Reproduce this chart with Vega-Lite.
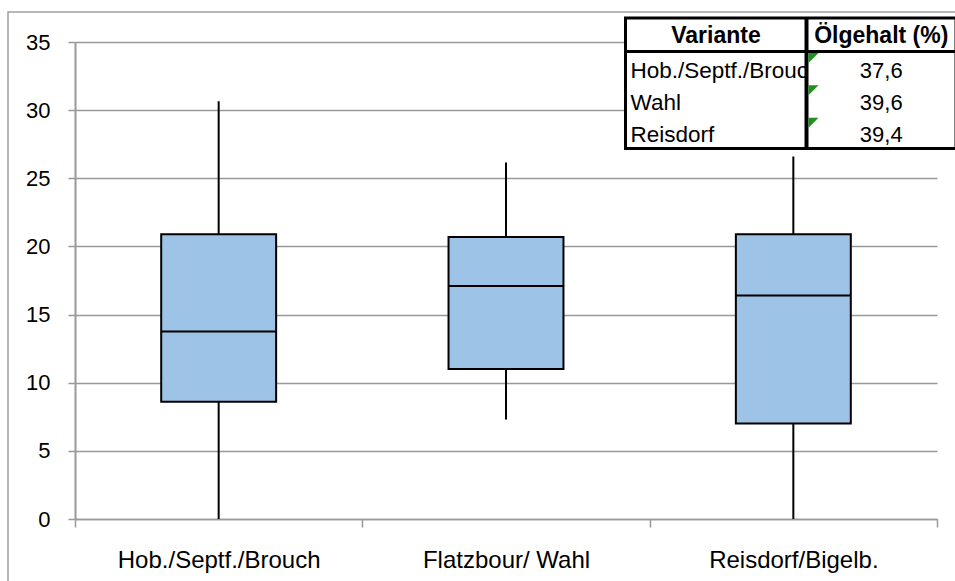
{
  "$schema": "https://vega.github.io/schema/vega-lite/v6.json",
  "width": 862,
  "height": 477,
  "autosize": {"type": "none"},
  "padding": {"left": 75, "top": 42, "right": 18, "bottom": 62},
  "background": "white",
  "config": {"view": {"stroke": null}},
  "datasets": {
    "boxes": [
      {"Sorte": "Hob./Septf./Brouch", "min": 0, "q1": 8.6, "median": 13.75, "q3": 20.9, "max": 30.65},
      {"Sorte": "Flatzbour/ Wahl", "min": 7.3, "q1": 11.0, "median": 17.1, "q3": 20.7, "max": 26.15},
      {"Sorte": "Reisdorf/Bigelb.", "min": 0, "q1": 7.0, "median": 16.4, "q3": 20.9, "max": 26.6}
    ],
    "tabelle": [
      {"r": 1, "Variante": "Hob./Septf./Brouch", "Oel": "37,6"},
      {"r": 2, "Variante": "Wahl", "Oel": "39,6"},
      {"r": 3, "Variante": "Reisdorf", "Oel": "39,4"}
    ],
    "eins": [{"k": 1}]
  },
  "layer": [
    {
      "data": {"name": "boxes"},
      "encoding": {
        "x": {
          "field": "Sorte", "type": "nominal", "sort": null,
          "scale": {"paddingInner": 0, "paddingOuter": 0},
          "axis": {
            "title": null, "labelAngle": 0, "labelFont": "Liberation Sans", "labelFontSize": 24,
            "labelColor": "black", "labelBaseline": "alphabetic", "labelPadding": 40, "labelLimit": 0,
            "tickBand": "extent", "tickSize": 8, "tickColor": "#999999", "tickWidth": 1.5,
            "domainColor": "#999999", "domainWidth": 1.5, "grid": false
          }
        }
      },
      "layer": [
        {
          "mark": {"type": "rule", "color": "black", "strokeWidth": 2},
          "encoding": {
            "y": {
              "field": "min", "type": "quantitative",
              "scale": {"domain": [0, 35], "nice": false, "zero": true},
              "axis": {
                "title": null, "values": [0, 5, 10, 15, 20, 25, 30, 35],
                "labelFont": "Liberation Sans", "labelFontSize": 22, "labelColor": "black",
                "labelPadding": 18, "tickSize": 7, "tickColor": "#999999", "tickWidth": 1.5,
                "domainColor": "#999999", "domainWidth": 2,
                "grid": true, "gridColor": "#999999", "gridWidth": 1.5
              }
            },
            "y2": {"field": "max"}
          }
        },
        {
          "mark": {"type": "bar", "fill": "#9DC3E6", "stroke": "black", "strokeWidth": 2, "width": {"band": 0.4}},
          "encoding": {
            "y": {"field": "q1", "type": "quantitative"},
            "y2": {"field": "q3"}
          }
        },
        {
          "mark": {"type": "tick", "color": "black", "thickness": 2, "size": 115, "opacity": 1},
          "encoding": {
            "y": {"field": "median", "type": "quantitative"}
          }
        }
      ]
    },
    {
      "layer": [
        {
          "data": {"name": "eins"},
          "mark": {"type": "rect", "fill": "transparent", "stroke": "#a0a0a0", "strokeWidth": 1.5},
          "encoding": {
            "x": {"datum": -1, "type": "quantitative", "axis": null,
              "scale": {"type": "linear", "domain": [-1, 0, 1, 2, 3], "range": [-67, 550.5, 731.5, 881, 890], "nice": false, "zero": false}},
            "x2": {"datum": 3},
            "y": {"datum": -1, "type": "quantitative", "axis": null,
              "scale": {"type": "linear", "domain": [-1, 0, 1, 4, 5], "range": [-30, -24, 9.5, 106.5, 548], "nice": false, "zero": false}},
            "y2": {"datum": 5}
          }
        },
        {
          "data": {"name": "eins"},
          "mark": {"type": "rect", "fill": "white"},
          "encoding": {
            "x": {"datum": 0, "type": "quantitative", "axis": null},
            "x2": {"datum": 1},
            "y": {"datum": 0, "type": "quantitative", "axis": null},
            "y2": {"datum": 4}
          }
        },
        {
          "data": {"name": "eins"},
          "mark": {"type": "text", "align": "center", "baseline": "alphabetic", "dy": 25, "font": "Liberation Sans", "fontSize": 23, "fontWeight": "bold", "color": "black"},
          "encoding": {
            "x": {"datum": 0.5, "type": "quantitative", "axis": null},
            "y": {"datum": 0, "type": "quantitative", "axis": null},
            "text": {"value": "Variante"}
          }
        },
        {
          "data": {"name": "tabelle"},
          "mark": {"type": "text", "align": "left", "baseline": "alphabetic", "dx": 5, "dy": 26, "font": "Liberation Sans", "fontSize": 22.5, "color": "black"},
          "encoding": {
            "x": {"datum": 0, "type": "quantitative", "axis": null},
            "y": {"field": "r", "type": "quantitative", "axis": null},
            "text": {"field": "Variante"}
          }
        },
        {
          "data": {"name": "eins"},
          "mark": {"type": "rect", "fill": "white"},
          "encoding": {
            "x": {"datum": 1, "type": "quantitative", "axis": null},
            "x2": {"datum": 2},
            "y": {"datum": 0, "type": "quantitative", "axis": null},
            "y2": {"datum": 4}
          }
        },
        {
          "data": {"name": "eins"},
          "mark": {"type": "text", "align": "center", "baseline": "alphabetic", "dy": 25, "font": "Liberation Sans", "fontSize": 23, "fontWeight": "bold", "color": "black"},
          "encoding": {
            "x": {"datum": 1.5, "type": "quantitative", "axis": null},
            "y": {"datum": 0, "type": "quantitative", "axis": null},
            "text": {"value": "Ölgehalt (%)"}
          }
        },
        {
          "data": {"name": "tabelle"},
          "mark": {"type": "text", "align": "center", "baseline": "alphabetic", "dy": 26, "font": "Liberation Sans", "fontSize": 22, "color": "black"},
          "encoding": {
            "x": {"datum": 1.5, "type": "quantitative", "axis": null},
            "y": {"field": "r", "type": "quantitative", "axis": null},
            "text": {"field": "Oel"}
          }
        },
        {
          "data": {"name": "eins"},
          "mark": {"type": "rect", "fill": "transparent", "stroke": "black", "strokeWidth": 3},
          "encoding": {
            "x": {"datum": 0, "type": "quantitative", "axis": null},
            "x2": {"datum": 2},
            "y": {"datum": 0, "type": "quantitative", "axis": null},
            "y2": {"datum": 4}
          }
        },
        {
          "data": {"name": "eins"},
          "mark": {"type": "rule", "color": "black", "strokeWidth": 3},
          "encoding": {
            "x": {"datum": 0, "type": "quantitative", "axis": null},
            "x2": {"datum": 2},
            "y": {"datum": 1, "type": "quantitative", "axis": null}
          }
        },
        {
          "data": {"name": "eins"},
          "mark": {"type": "rule", "color": "black", "strokeWidth": 4},
          "encoding": {
            "x": {"datum": 1, "type": "quantitative", "axis": null},
            "y": {"datum": 0, "type": "quantitative", "axis": null},
            "y2": {"datum": 4}
          }
        },
        {
          "data": {"name": "tabelle"},
          "mark": {"type": "point", "shape": "M -1 -1 L 1 -1 L -1 1 Z", "filled": true, "size": 100, "color": "#1f8f1f", "opacity": 1, "xOffset": 7, "yOffset": 6.5},
          "encoding": {
            "x": {"datum": 1, "type": "quantitative", "axis": null},
            "y": {"field": "r", "type": "quantitative", "axis": null}
          }
        }
      ]
    }
  ],
  "resolve": {
    "scale": {"x": "independent", "y": "independent"},
    "axis": {"x": "independent", "y": "independent"}
  }
}
